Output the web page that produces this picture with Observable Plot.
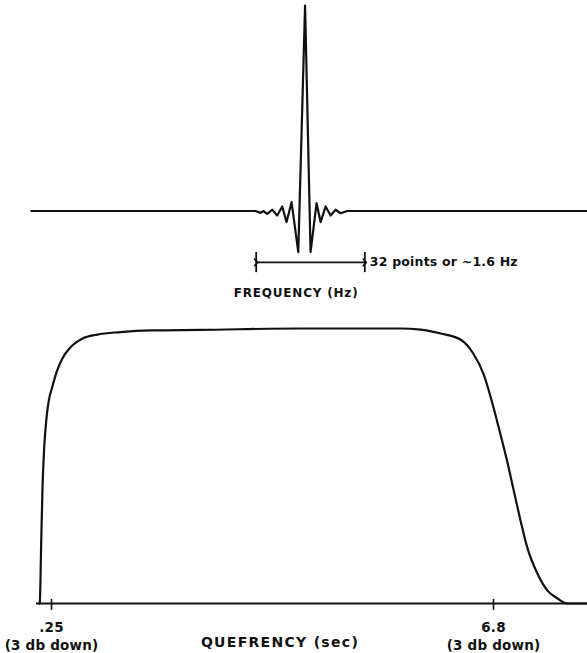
<!DOCTYPE html>
<html><head><meta charset="utf-8">
<script src="https://cdn.jsdelivr.net/npm/d3@7"></script>
<script src="https://cdn.jsdelivr.net/npm/@observablehq/plot@0.6"></script>
<style>
html,body{margin:0;padding:0;background:#fff;}
#chart svg{display:block;}
</style></head><body><div id="chart"></div>
<script>
// ---- Top panel: filter response in frequency (x in frequency points, 0 = centre) ----
const freqPoints = [-80.7, -14.6, -13.1, -12.3, -11.15, -9.68, -8.2, -6.73, -5.46, -3.98, -2.0, 0, 1.62, 3.39, 4.57, 6.05, 7.52, 9.0, 10.5, 12.4, 83.3];
const freqAmp    = [0, 0, -0.009, 0, -0.014, 0.006, -0.022, 0.022, -0.054, 0.043, -0.20, 1.0, -0.20, 0.038, -0.054, 0.022, -0.022, 0.006, -0.011, 0, 0];
const scaleBarStart = -14.4;
const scaleBarLength = 32;
const scaleBarLabel = "32 points or ~1.6 Hz";
const freqLabel = "FREQUENCY (Hz)";

// ---- Bottom panel: lifter (quefrency window) ----
const quefSec = [0.072, 0.077, 0.098, 0.117, 0.142, 0.172, 0.210, 0.261, 0.325, 0.409, 0.532, 0.705, 0.928, 1.273, 1.718, 2.458, 3.94, 5.42, 5.72, 6.017, 6.31, 6.50, 6.65, 6.80, 6.90, 7.00, 7.10, 7.20, 7.30, 7.45, 7.60, 7.75, 7.90, 8.19];
const quefAmp = [0, 0.005, 0.229, 0.423, 0.568, 0.665, 0.738, 0.787, 0.841, 0.890, 0.932, 0.963, 0.978, 0.987, 0.993, 0.995, 1.0, 1.0, 0.996, 0.982, 0.960, 0.909, 0.836, 0.713, 0.618, 0.520, 0.411, 0.302, 0.204, 0.109, 0.047, 0.018, 0, 0];
const quefTicks = [0.25, 6.8];
const quefTickLabels = [".25", "6.8"];
const quefTickNote = "(3 db down)";
const quefLabel = "QUEFRENCY (sec)";

const FONT = "DejaVu Sans";
const INK = "#111";

const topData = freqPoints.map((p, i) => ({p, a: freqAmp[i]}));
const botData = quefSec.map((q, i) => ({q, a: quefAmp[i]}));
const barLevel = -0.25;

const topPlot = Plot.plot({
  width: 587, height: 300,
  marginLeft: 31, marginRight: 0, marginTop: 0, marginBottom: 0,
  style: {fontFamily: FONT, background: "#fff", color: INK},
  x: {domain: [scaleBarStart, scaleBarStart + scaleBarLength], range: [255.7, 364.3], axis: null},
  y: {domain: [0, 1], range: [210.5, 5], axis: null},
  marks: [
    Plot.line(topData, {x: "p", y: "a", stroke: INK, strokeWidth: 2.2, curve: "linear", strokeLinejoin: "round"}),
    Plot.link([{x1: scaleBarStart, x2: scaleBarStart + scaleBarLength}], {
      x1: "x1", x2: "x2", y1: () => barLevel, y2: () => barLevel,
      stroke: INK, strokeWidth: 1.6, markerStart: "arrow", markerEnd: "arrow", inset: 2
    }),
    Plot.ruleX([scaleBarStart, scaleBarStart + scaleBarLength], {
      x: d => d, y1: () => barLevel + 0.048, y2: () => barLevel - 0.05, stroke: INK, strokeWidth: 1.8
    }),
    Plot.text([scaleBarLabel], {
      x: () => scaleBarStart + scaleBarLength, y: () => barLevel, text: d => d,
      dx: 5, textAnchor: "start", fontSize: 12.5, fontWeight: "bold", fill: INK
    }),
    Plot.text([freqLabel], {
      x: () => 0, frameAnchor: "bottom", lineAnchor: "bottom", text: d => d,
      dx: -9, dy: -4, fontSize: 12, fontWeight: "bold", fill: INK
    })
  ]
});

const bottomPlot = Plot.plot({
  width: 587, height: 353,
  marginLeft: 36, marginRight: 0, marginTop: 0, marginBottom: 0,
  style: {fontFamily: FONT, background: "#fff", color: INK},
  x: {domain: [quefTicks[0], quefTicks[1]], range: [51, 493], axis: null},
  y: {domain: [0, 1], range: [303, 28], axis: null},
  marks: [
    Plot.ruleY([0], {stroke: INK, strokeWidth: 2}),
    Plot.line(botData, {x: "q", y: "a", stroke: INK, strokeWidth: 2.2, curve: "monotone-x"}),
    Plot.ruleX(quefTicks, {x: d => d, y1: () => -0.025, y2: () => 0.015, stroke: INK, strokeWidth: 1.6}),
    Plot.text(quefTicks, {
      x: d => d, y: () => 0, text: (d, i) => quefTickLabels[i] + "\n" + quefTickNote,
      lineAnchor: "top", lineHeight: 1.3, dy: 16, fontSize: 13.5, fontWeight: "bold", fill: INK
    }),
    Plot.text([quefLabel], {
      frameAnchor: "bottom", lineAnchor: "bottom", text: d => d,
      dx: -32, dy: -7, fontSize: 14, fontWeight: "bold", fill: INK
    })
  ]
});

document.getElementById("chart").append(topPlot, bottomPlot);

// letter spacing tweaks for the hand-lettered look
d3.selectAll("#chart text").each(function () {
  const t = this.textContent;
  let ls = "0.2px";
  if (t.indexOf("QUEFRENCY") >= 0) ls = "1.3px";
  else if (t.indexOf("FREQUENCY") >= 0) ls = "0.8px";
  else if (t.indexOf("points") >= 0) ls = "0.2px";
  d3.select(this).style("letter-spacing", ls);
});
</script>
</body></html>
